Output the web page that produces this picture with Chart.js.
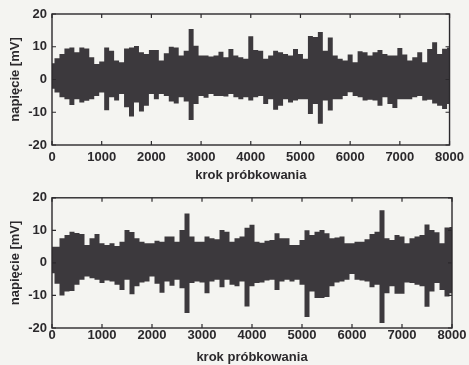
<!DOCTYPE html>
<html lang="pl">
<head>
    <meta charset="UTF-8">
    <title>napięcie – krok próbkowania</title>
    <script src="https://cdn.jsdelivr.net/npm/chart.js"></script>
    <style>
        * { box-sizing: border-box; }
        html, body {
            margin:0; padding:0;
            width:469px; height:365px;
            background:#f4f4f1;
            overflow:hidden;
        }
        .plot { position:absolute; left:0; width:469px; }
        #p1 { top:0; height:185px; }
        #p2 { top:185px; height:180px; }
    </style>
</head>
<body>
    <div class="plot" id="p1"><canvas id="c1"></canvas></div>
    <div class="plot" id="p2"><canvas id="c2"></canvas></div>
    <script>
        // krok próbkowania (co 100 próbek, odczyt obwiedni z rysunku)
        const samples = [0,100,200,300,400,500,600,700,800,900,1000,1100,1200,1300,1400,1500,1600,1700,1800,1900,
            2000,2100,2200,2300,2400,2500,2600,2700,2800,2900,3000,3100,3200,3300,3400,3500,3600,3700,3800,3900,
            4000,4100,4200,4300,4400,4500,4600,4700,4800,4900,5000,5100,5200,5300,5400,5500,5600,5700,5800,5900,
            6000,6100,6200,6300,6400,6500,6600,6700,6800,6900,7000,7100,7200,7300,7400,7500,7600,7700,7800,7900,8000];

        // górny wykres - maksima i minima sygnału [mV]
        const upper1 = [5.0,6.5,7.8,9.5,9.8,8.3,9.8,9.5,6.8,4.7,5.5,9.8,8.8,5.8,5.3,9.5,9.8,10.2,8.3,7.8,
            9.0,9.0,5.8,8.0,10.0,9.8,7.3,8.8,15.4,10.3,7.3,7.3,7.0,7.3,8.5,6.8,9.3,7.3,6.8,6.3,
            13.2,9.0,8.8,6.3,7.3,8.8,8.3,7.8,7.3,9.3,7.8,6.3,13.3,13.0,14.5,8.8,12.8,7.3,6.3,5.8,
            7.6,5.3,8.6,8.3,7.3,8.3,9.0,7.8,7.3,7.3,9.6,7.6,5.8,6.8,8.3,5.3,9.3,11.4,7.8,9.4,9.8];
        const lower1 = [-2.8,-4.0,-5.4,-6.0,-7.8,-6.0,-7.0,-6.5,-6.0,-5.0,-4.0,-9.4,-5.4,-6.4,-4.4,-8.5,-11.3,-7.0,-9.8,-8.0,
            -4.4,-6.0,-4.4,-5.0,-6.7,-7.3,-5.4,-6.7,-12.4,-7.5,-5.0,-5.6,-4.4,-5.0,-5.0,-5.2,-4.4,-5.4,-6.0,-5.4,
            -6.4,-5.4,-5.0,-7.5,-6.0,-9.2,-8.0,-6.0,-7.0,-6.4,-6.0,-6.0,-10.5,-7.5,-13.5,-6.4,-9.5,-6.0,-6.0,-5.0,
            -3.9,-5.0,-5.4,-6.4,-6.2,-6.4,-8.0,-5.4,-7.5,-8.7,-6.0,-6.0,-6.0,-5.4,-5.0,-6.4,-6.2,-7.3,-8.0,-9.0,-7.5];

        // dolny wykres
        const upper2 = [5.0,5.0,7.6,8.6,9.6,9.2,8.9,5.5,7.6,8.9,6.0,5.5,6.0,5.2,6.5,10.1,9.5,7.6,6.5,6.0,
            6.0,6.8,6.5,8.1,8.1,6.5,10.1,15.2,8.1,6.5,6.5,8.1,7.6,7.3,10.1,9.6,6.5,7.6,8.1,10.8,
            11.7,6.5,6.2,6.8,7.0,9.1,7.6,7.6,5.5,5.5,7.0,10.0,8.6,9.6,10.1,9.1,7.6,7.8,8.1,6.0,
            6.0,6.5,6.5,7.3,8.9,9.6,16.2,7.6,7.0,8.6,8.1,6.0,7.6,8.1,8.6,11.8,10.1,9.4,6.0,10.9,11.0];
        const lower2 = [-3.2,-6.4,-10.0,-8.8,-8.6,-6.7,-5.2,-4.2,-4.7,-5.2,-6.2,-5.4,-5.7,-6.7,-8.3,-5.2,-9.6,-7.2,-6.0,-5.7,
            -4.2,-6.4,-9.2,-5.7,-7.0,-5.2,-7.8,-15.4,-6.2,-5.7,-6.0,-9.3,-5.7,-5.2,-7.5,-5.2,-6.7,-7.2,-5.7,-13.4,
            -7.2,-6.2,-6.0,-5.4,-5.2,-8.3,-5.7,-5.2,-5.7,-5.2,-6.7,-16.6,-8.8,-10.8,-10.8,-10.5,-7.2,-6.0,-5.7,-5.2,
            -3.4,-5.2,-5.4,-5.7,-7.5,-6.7,-18.5,-9.3,-7.2,-9.5,-9.5,-6.0,-6.2,-6.7,-7.2,-13.5,-8.8,-6.2,-8.3,-10.3,-9.3];

        const xTicks = [0,1000,2000,3000,4000,5000,6000,7000,8000];
        const yTicks = [-20,-10,0,10,20];

        const ink = '#2b292c';
        const band = '#3c393d';

        Chart.defaults.font.family = "'Liberation Sans', Arial, sans-serif";
        Chart.defaults.font.size = 13;
        Chart.defaults.font.weight = 'bold';
        Chart.defaults.color = ink;

        // ramka + znaczniki do środka (jak w MATLABie)
        const frame = {
            id: 'frame',
            afterDatasetsDraw(chart) {
                const {ctx, chartArea: a, scales: {x, y}} = chart;
                ctx.save();
                ctx.strokeStyle = ink;
                ctx.lineWidth = 1.4;
                ctx.strokeRect(a.left, a.top, a.right - a.left, a.bottom - a.top);
                ctx.lineWidth = 1.2;
                ctx.beginPath();
                xTicks.forEach(v => {
                    const px = x.getPixelForValue(v);
                    ctx.moveTo(px, a.bottom); ctx.lineTo(px, a.bottom - 4);
                    ctx.moveTo(px, a.top); ctx.lineTo(px, a.top + 4);
                });
                yTicks.forEach(v => {
                    const py = y.getPixelForValue(v);
                    ctx.moveTo(a.left, py); ctx.lineTo(a.left + 4, py);
                    ctx.moveTo(a.right, py); ctx.lineTo(a.right - 4, py);
                });
                ctx.stroke();
                ctx.restore();
            }
        };

        function makeChart(id, upper, lower, o) {
            return new Chart(document.getElementById(id), {
                type: 'line',
                data: {
                    datasets: [
                        {
                            data: samples.map((s, i) => ({x: s, y: upper[i]})),
                            fill: '+1', backgroundColor: band,
                            borderWidth: 0, pointRadius: 0, stepped: 'middle'
                        },
                        {
                            data: samples.map((s, i) => ({x: s, y: lower[i]})),
                            fill: false, borderWidth: 0, pointRadius: 0, stepped: 'middle'
                        }
                    ]
                },
                options: {
                    responsive: true,
                    maintainAspectRatio: false,
                    animation: false,
                    layout: { padding: { left: 0, right: 17, top: o.top, bottom: 0 } },
                    plugins: { legend: { display: false }, tooltip: { enabled: false } },
                    scales: {
                        x: {
                            type: 'linear', min: 0, max: 8000,
                            afterBuildTicks: s => { s.ticks = xTicks.map(v => ({value: v})); },
                            ticks: { padding: o.xTickPad, maxRotation: 0, autoSkip: false, callback: v => String(v) },
                            grid: { display: false, drawTicks: false },
                            border: { display: false },
                            title: { display: true, text: 'krok próbkowania', padding: { top: 0, bottom: o.xTitlePad } },
                            afterFit: s => { s.height = o.xHeight; }
                        },
                        y: {
                            min: -20, max: 20,
                            afterBuildTicks: s => { s.ticks = yTicks.map(v => ({value: v})); },
                            ticks: { padding: 5, callback: v => String(v) },
                            grid: { display: false, drawTicks: false },
                            border: { display: false },
                            title: { display: true, text: 'napięcie [mV]', padding: { top: 8, bottom: 0 } },
                            afterFit: s => { s.width = 52; }
                        }
                    }
                },
                plugins: [frame]
            });
        }

        makeChart('c1', upper1, lower1, { top: 14, xHeight: 40, xTickPad: 5, xTitlePad: 2 });
        makeChart('c2', upper2, lower2, { top: 12, xHeight: 37, xTickPad: 0, xTitlePad: 0 });
    </script>
</body>
</html>
